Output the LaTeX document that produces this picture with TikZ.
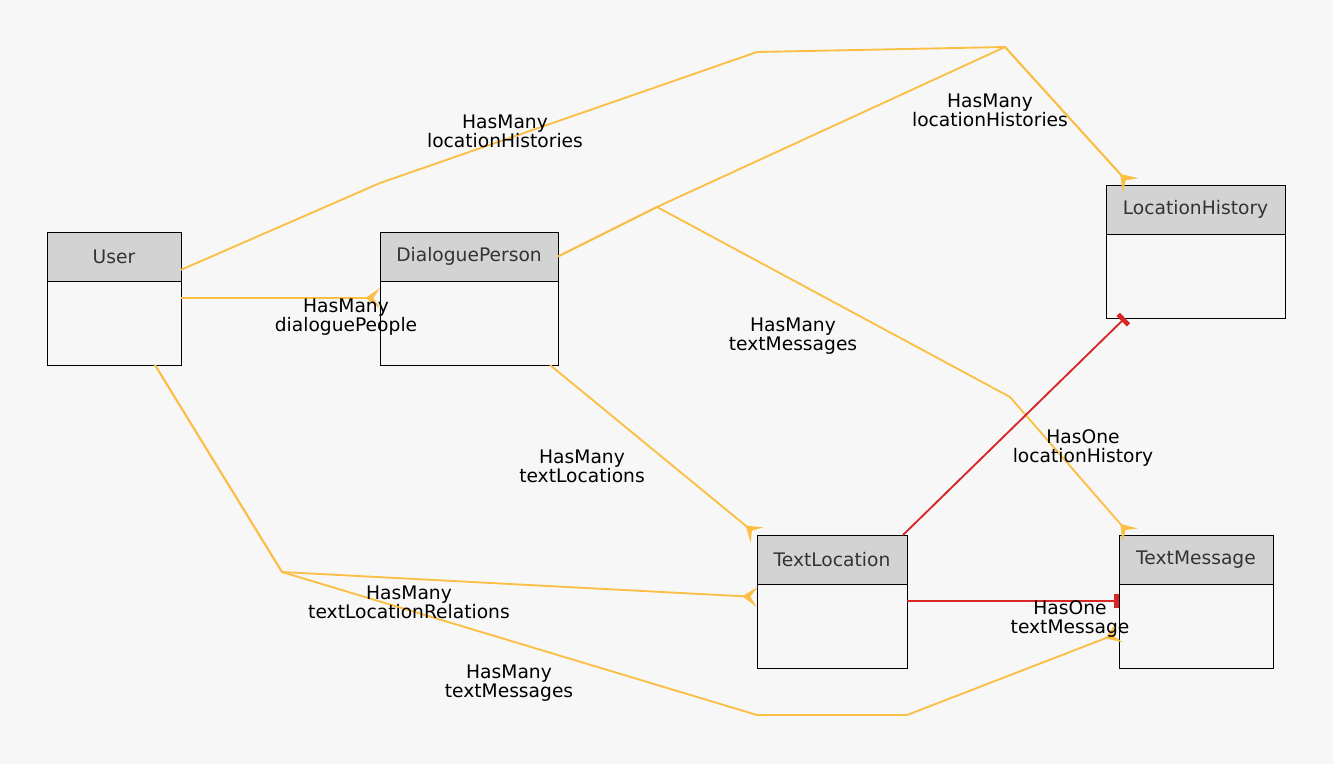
\documentclass[tikz,border=0pt]{standalone}
\usepackage{fontspec}
\setmainfont{DejaVu Sans}
\usetikzlibrary{positioning,arrows.meta}
\definecolor{bgcol}{HTML}{F7F7F7}
\definecolor{headcol}{HTML}{D3D3D3}
\definecolor{titlecol}{HTML}{333333}
\definecolor{manycol}{HTML}{FBBF45}
\definecolor{onecol}{HTML}{D62728}

\begin{document}
\begin{tikzpicture}[%
  x = 0.75pt, y = -0.75pt,
  font = \fontsize{14}{14.5}\selectfont,
  head/.style = {draw, fill = headcol, text = titlecol, line width = 0.75pt,
    minimum height = 36.75pt, inner sep = 0pt, outer sep = 0pt},
  body/.style = {draw, fill = bgcol, line width = 0.75pt,
    minimum height = 63pt, inner sep = 0pt, outer sep = 0pt},
  many/.style = {draw = manycol, line width = 1.4pt,
    -{Stealth[reversed, length = 11pt, width = 15pt, inset = 5pt]}},
  one/.style = {draw = onecol, line width = 1.4pt,
    -{Rectangle[length = 3.5pt, width = 11pt]}},
  rel/.style = {align = center, inner sep = 0pt}]
  \fill[bgcol] (0, 0) rectangle (1333, 764);

  % entities
  \node[head, minimum width = 100.5pt] (user) at (114, 256.5) {User};
  \node[body, minimum width = 100.5pt, below = 0pt of user] (user-body) {};
  \node[head, minimum width = 133.5pt] (dlgperson) at (469, 256.5) {DialoguePerson};
  \node[body, minimum width = 133.5pt, below = 0pt of dlgperson] (dlgperson-body) {};
  \node[head, minimum width = 134.25pt] (lochist) at (1195.5, 209.5) {LocationHistory};
  \node[body, minimum width = 134.25pt, below = 0pt of lochist] (lochist-body) {};
  \node[head, minimum width = 112.5pt] (textloc) at (832, 559.5) {TextLocation};
  \node[body, minimum width = 112.5pt, below = 0pt of textloc] (textloc-body) {};
  \node[head, minimum width = 115.5pt] (textmsg) at (1196, 559.5) {TextMessage};
  \node[body, minimum width = 115.5pt, below = 0pt of textmsg] (textmsg-body) {};

  % has many
  \draw[many] ([yshift = -10pt]user.east) -- (380, 183) -- (757, 52) -- (1005, 47)
    -- ([xshift = -49pt]lochist.north);
  \draw[many] (dlgperson.east) -- (657, 207) -- (1005, 47) -- ([xshift = -49pt]lochist.north);
  \draw[many] (dlgperson.east) -- (657, 207) -- (1010, 397) -- ([xshift = -49.5pt]textmsg.north);
  \draw[many] ([yshift = 18.75pt]user-body.east) -- ([yshift = 18.75pt]dlgperson-body.west);
  \draw[many] ([xshift = 60.75pt]dlgperson-body.south) -- (textloc.north west);
  \draw[many] ([xshift = 30.75pt]user-body.south) -- (282, 572) -- ([yshift = 21.75pt]textloc-body.west);
  \draw[many] ([xshift = 30.75pt]user-body.south) -- (282, 572) -- (757, 715) -- (907, 715)
    -- ([yshift = -5.25pt]textmsg-body.west);

  % has one
  \draw[one] ([yshift = 18.75pt]textloc-body.east) -- ([yshift = 18.75pt]textmsg-body.west);
  \draw[one] ([xshift = 53.25pt]textloc.north) -- ([xshift = -52.9pt]lochist-body.south);

  % labels
  \node[rel] (l-userlh) at (505, 131) {HasMany\\locationHistories};
  \node[rel] (l-dplh) at (990, 110) {HasMany\\locationHistories};
  \node[rel] (l-dptm) at (793, 336) {HasMany\\textMessages};
  \node[rel] (l-userdp) at (346, 317) {HasMany\\dialoguePeople};
  \node[rel] (l-dptl) at (582, 466) {HasMany\\textLocations};
  \node[rel] (l-tllh) at (1083, 448) {HasOne\\locationHistory};
  \node[rel] (l-tltm) at (1070, 619) {HasOne\\textMessage};
  \node[rel] (l-usertl) at (409, 602) {HasMany\\textLocationRelations};
  \node[rel] (l-usertm) at (509, 683) {HasMany\\textMessages};
\end{tikzpicture}
\end{document}
